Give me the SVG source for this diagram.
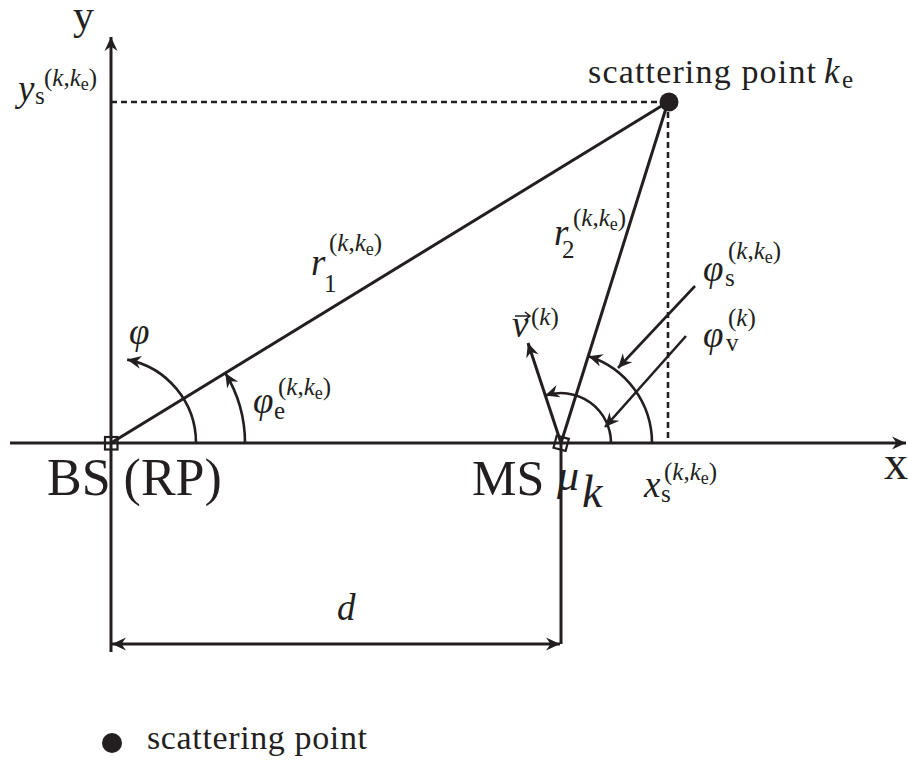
<svg xmlns="http://www.w3.org/2000/svg" width="908" height="761" viewBox="0 0 908 761">
<defs>
<marker id="ah" viewBox="-14 -7 16 14" markerWidth="16" markerHeight="14" refX="0" refY="0" orient="auto-start-reverse" markerUnits="userSpaceOnUse">
<path d="M0,0 L-14,-6.5 L-9.5,0 L-14,6.5 Z" fill="#231f20"/>
</marker>
</defs>
<rect width="908" height="761" fill="#fff"/>
<g id="connectors" stroke="#231f20" fill="none">
<g stroke-width="3">
<line x1="111" y1="652" x2="111" y2="37" marker-end="url(#ah)"/>
<line x1="10" y1="443" x2="906" y2="443" marker-end="url(#ah)"/>
<line x1="111" y1="443" x2="668" y2="102"/>
<line x1="561" y1="443" x2="668" y2="102"/>
<line x1="561" y1="443" x2="528" y2="343" marker-end="url(#ah)"/>
<line x1="561" y1="443" x2="561" y2="644"/>
<line x1="112" y1="644" x2="560" y2="644" marker-start="url(#ah)" marker-end="url(#ah)"/>
</g>
<g stroke-width="2.6" stroke-dasharray="6,4">
<line x1="111" y1="102" x2="668" y2="102"/>
<line x1="668" y1="102" x2="668" y2="443"/>
</g>
<g stroke-width="2.6">
<path d="M196,443 A85,85 0 0 0 127.2,359.6" marker-end="url(#ah)"/>
<path d="M245,443 A134,134 0 0 0 225.4,373.2" marker-end="url(#ah)"/>
<path d="M611,443 A50,50 0 0 0 545.2,395.6" marker-end="url(#ah)"/>
<path d="M652,443 A91,91 0 0 0 588.4,356.2" marker-end="url(#ah)"/>
<line x1="695" y1="286" x2="618" y2="368" marker-end="url(#ah)"/>
<line x1="686" y1="336" x2="605" y2="427" marker-end="url(#ah)"/>
</g>
</g>
<g id="bs">
<rect x="105" y="437" width="12.5" height="12.5" fill="none" stroke="#231f20" stroke-width="2.2"/>
<text x="47" y="495" font-size="52" font-family="Times New Roman, Liberation Serif, serif" fill="#231f20">BS (RP)</text>
</g>
<g id="ms">
<rect x="555" y="437" width="12.5" height="12.5" fill="none" stroke="#231f20" stroke-width="2.2" transform="rotate(15 561 443)"/>
<text x="472" y="495" font-size="50" font-family="Times New Roman, Liberation Serif, serif" fill="#231f20">MS</text>
<text x="557" y="490" font-size="44" font-style="italic" font-family="Times New Roman, Liberation Serif, serif" fill="#231f20">μ</text>
<text x="582" y="507" font-size="46" font-style="italic" font-family="Times New Roman, Liberation Serif, serif" fill="#231f20">k</text>
</g>
<g id="scatter">
<circle cx="669" cy="102" r="9.5" fill="#231f20"/>
<text x="588" y="83" font-size="34" textLength="228" lengthAdjust="spacing" font-family="Times New Roman, Liberation Serif, serif" fill="#231f20">scattering point</text>
<text x="824" y="83" font-size="35" font-style="italic" font-family="Times New Roman, Liberation Serif, serif" fill="#231f20">k</text>
<text x="842" y="88" font-size="25" font-family="Times New Roman, Liberation Serif, serif" fill="#231f20">e</text>
</g>
<g id="axis-labels">
<text x="73" y="29" font-size="42" font-family="Times New Roman, Liberation Serif, serif" fill="#231f20">y</text>
<text x="884" y="479" font-size="48" font-family="Times New Roman, Liberation Serif, serif" fill="#231f20">x</text>
</g>
<g id="lbl-ys">
<text x="18" y="101" font-size="37" font-style="italic" font-family="Times New Roman, Liberation Serif, serif" fill="#231f20">y</text>
<text x="35" y="104" font-size="25" font-family="Times New Roman, Liberation Serif, serif" fill="#231f20">s</text>
<text x="44" y="86" font-size="25" font-family="Times New Roman, Liberation Serif, serif" fill="#231f20">(<tspan font-style="italic">k</tspan>,<tspan font-style="italic">k</tspan><tspan font-size="18" dy="4">e</tspan><tspan dy="-4">)</tspan></text>
</g>
<g id="lbl-xs">
<text x="644" y="497" font-size="37" font-style="italic" font-family="Times New Roman, Liberation Serif, serif" fill="#231f20">x</text>
<text x="661" y="502" font-size="25" font-family="Times New Roman, Liberation Serif, serif" fill="#231f20">s</text>
<text x="664" y="480" font-size="25" font-family="Times New Roman, Liberation Serif, serif" fill="#231f20">(<tspan font-style="italic">k</tspan>,<tspan font-style="italic">k</tspan><tspan font-size="18" dy="4">e</tspan><tspan dy="-4">)</tspan></text>
</g>
<g id="lbl-r1">
<text x="311" y="275" font-size="37" font-style="italic" font-family="Times New Roman, Liberation Serif, serif" fill="#231f20">r</text>
<text x="324" y="292" font-size="25" font-family="Times New Roman, Liberation Serif, serif" fill="#231f20">1</text>
<text x="329" y="251" font-size="25" font-family="Times New Roman, Liberation Serif, serif" fill="#231f20">(<tspan font-style="italic">k</tspan>,<tspan font-style="italic">k</tspan><tspan font-size="18" dy="4">e</tspan><tspan dy="-4">)</tspan></text>
</g>
<g id="lbl-r2">
<text x="554" y="245" font-size="37" font-style="italic" font-family="Times New Roman, Liberation Serif, serif" fill="#231f20">r</text>
<text x="562" y="258" font-size="25" font-family="Times New Roman, Liberation Serif, serif" fill="#231f20">2</text>
<text x="573" y="226" font-size="25" font-family="Times New Roman, Liberation Serif, serif" fill="#231f20">(<tspan font-style="italic">k</tspan>,<tspan font-style="italic">k</tspan><tspan font-size="18" dy="4">e</tspan><tspan dy="-4">)</tspan></text>
</g>
<g id="lbl-phi">
<text x="129" y="344" font-size="37" font-style="italic" font-family="Times New Roman, Liberation Serif, serif" fill="#231f20">φ</text>
</g>
<g id="lbl-phie">
<text x="253" y="413" font-size="37" font-style="italic" font-family="Times New Roman, Liberation Serif, serif" fill="#231f20">φ</text>
<text x="274" y="419" font-size="25" font-family="Times New Roman, Liberation Serif, serif" fill="#231f20">e</text>
<text x="278" y="395" font-size="25" font-family="Times New Roman, Liberation Serif, serif" fill="#231f20">(<tspan font-style="italic">k</tspan>,<tspan font-style="italic">k</tspan><tspan font-size="18" dy="4">e</tspan><tspan dy="-4">)</tspan></text>
</g>
<g id="lbl-phis">
<text x="703" y="281" font-size="37" font-style="italic" font-family="Times New Roman, Liberation Serif, serif" fill="#231f20">φ</text>
<text x="725" y="286" font-size="25" font-family="Times New Roman, Liberation Serif, serif" fill="#231f20">s</text>
<text x="728" y="259" font-size="25" font-family="Times New Roman, Liberation Serif, serif" fill="#231f20">(<tspan font-style="italic">k</tspan>,<tspan font-style="italic">k</tspan><tspan font-size="18" dy="4">e</tspan><tspan dy="-4">)</tspan></text>
</g>
<g id="lbl-phiv">
<text x="703" y="347" font-size="37" font-style="italic" font-family="Times New Roman, Liberation Serif, serif" fill="#231f20">φ</text>
<text x="726" y="351" font-size="25" font-family="Times New Roman, Liberation Serif, serif" fill="#231f20">v</text>
<text x="728" y="326" font-size="25" font-family="Times New Roman, Liberation Serif, serif" fill="#231f20">(<tspan font-style="italic">k</tspan>)</text>
</g>
<g id="lbl-v">
<text x="512" y="337" font-size="37" font-style="italic" font-family="Times New Roman, Liberation Serif, serif" fill="#231f20">v</text>
<path d="M515,316 L530,316 M525,312 L530,316 L525,320" stroke="#231f20" stroke-width="1.6" fill="none"/>
<text x="531" y="325" font-size="25" font-family="Times New Roman, Liberation Serif, serif" fill="#231f20">(<tspan font-style="italic">k</tspan>)</text>
</g>
<g id="lbl-d">
<text x="337" y="620" font-size="37" font-style="italic" font-family="Times New Roman, Liberation Serif, serif" fill="#231f20">d</text>
</g>
<g id="legend">
<circle cx="112" cy="743" r="10" fill="#231f20"/>
<text x="147" y="749" font-size="34" textLength="220" lengthAdjust="spacing" font-family="Times New Roman, Liberation Serif, serif" fill="#231f20">scattering point</text>
</g>
</svg>
